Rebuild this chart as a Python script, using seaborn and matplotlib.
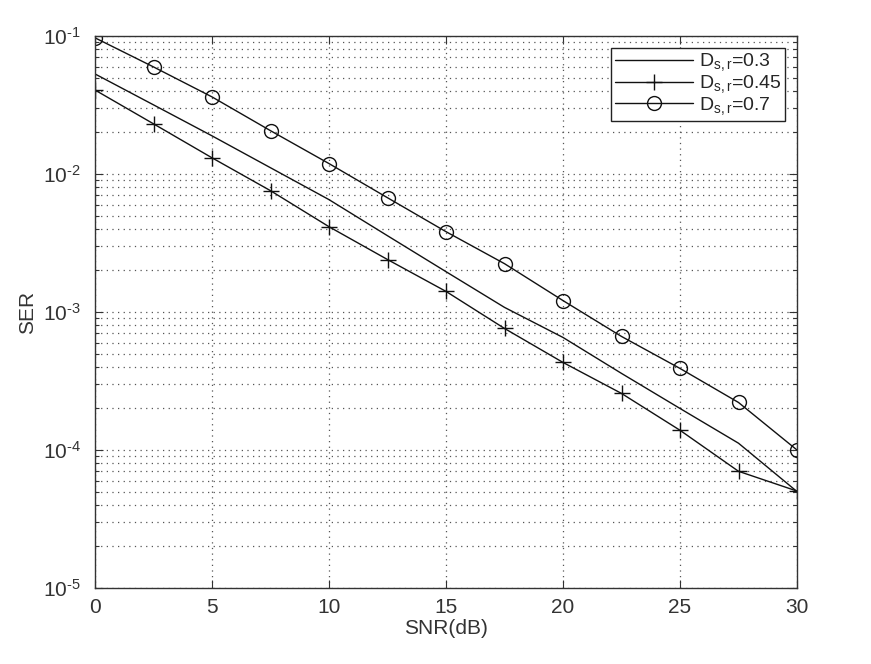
import numpy as np
import pandas as pd
import matplotlib
matplotlib.use("Agg")
import matplotlib.pyplot as plt
import seaborn as sns
from matplotlib.ticker import LogLocator, NullFormatter, MultipleLocator, FuncFormatter

snr = [0, 2.5, 5, 7.5, 10, 12.5, 15, 17.5, 20, 22.5, 25, 27.5, 30]
ser_03 = [0.0531, 0.0317, 0.0189, 0.0111, 0.00652, 0.00357, 0.00196, 0.00108,
          0.000654, 0.000359, 0.000200, 0.000112, 0.0000500]
ser_045 = [0.0406, 0.0231, 0.0131, 0.00757, 0.00415, 0.00240, 0.00141, 0.00076,
           0.000431, 0.000257, 0.000139, 0.0000701, 0.0000504]
ser_07 = [0.097, 0.0597, 0.0362, 0.0206, 0.0119, 0.00673, 0.00382, 0.00224,
          0.00121, 0.000665, 0.00039, 0.000221, 0.0001]
labels = [r"D$_{\rm s,r}$=0.3", r"D$_{\rm s,r}$=0.45", r"D$_{\rm s,r}$=0.7"]

sns.set_style("ticks")
plt.rcParams['font.family'] = ['Liberation Sans', 'DejaVu Sans']
plt.rcParams['mathtext.fontset'] = 'custom'
plt.rcParams['mathtext.rm'] = 'Liberation Sans'
plt.rcParams['mathtext.it'] = 'Liberation Sans'
plt.rcParams['axes.unicode_minus'] = False

fig = plt.figure(figsize=(8.71, 6.64), dpi=100)
ax = fig.add_axes([95/871, 1-588/664, (797-95)/871, (588-36)/664])

styles = [dict(marker=None), dict(marker='+', markersize=11, markeredgewidth=1.0),
          dict(marker='o', markersize=10, markerfacecolor='none', markeredgewidth=1.0)]
for vals, lab, st in zip([ser_03, ser_045, ser_07], labels, styles):
    df = pd.DataFrame({"SNR": snr, "SER": vals})
    sns.lineplot(data=df, x="SNR", y="SER", ax=ax, color='#111111', linewidth=1.0,
                 label=lab, markeredgecolor='#111111', **st)

ax.set_yscale('log')
ax.set_xlim(0, 30)
ax.set_ylim(1e-5, 1e-1)
ax.xaxis.set_major_locator(MultipleLocator(5))
ax.yaxis.set_major_locator(LogLocator(base=10, numticks=10))
ax.yaxis.set_minor_locator(LogLocator(base=10, subs=np.arange(2, 10), numticks=20))
ax.yaxis.set_minor_formatter(NullFormatter())
ax.yaxis.set_major_formatter(FuncFormatter(
    lambda v, p: "$10^{\u2010%d}$" % int(round(-np.log10(v)))))

gstyle = dict(linestyle=(0, (1, 3.5)), color='#555555', linewidth=0.9)
ax.grid(True, which='major', axis='both', **gstyle)
ax.grid(True, which='minor', axis='y', **gstyle)

ax.tick_params(which='both', direction='in', top=True, right=True, labelsize=15,
               colors='#333333', width=0.8)
ax.tick_params(axis='y', which='major', pad=10)
ax.tick_params(axis='x', which='major', pad=7)
ax.tick_params(which='major', length=6)
ax.tick_params(which='minor', length=3)
for sp in ax.spines.values():
    sp.set_color('#333333')
    sp.set_linewidth(1.0)
    sp.set_visible(True)

ax.set_xlabel("SNR(dB)", fontsize=15, color='#333333', labelpad=2)
ax.set_ylabel("SER", fontsize=15, color='#333333', labelpad=4)

leg = ax.legend(loc='upper right', fontsize=14, frameon=True, fancybox=False,
                edgecolor='#222222', handlelength=4.0, borderaxespad=0.6,
                labelspacing=0.0, borderpad=0.2, handletextpad=0.3)
leg.get_frame().set_linewidth(1.0)
leg.get_frame().set_alpha(1)

fig.savefig("out.png", dpi=100)
